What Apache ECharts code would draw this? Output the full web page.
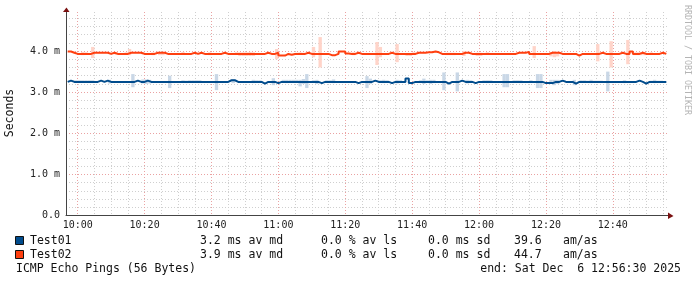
<!DOCTYPE html>
<html>
<head>
<meta charset="utf-8">
<script src="https://cdn.jsdelivr.net/npm/echarts@6/dist/echarts.min.js"></script>
<style>
html,body{margin:0;padding:0;background:#fff;}
#c{width:697px;height:283px;}
</style>
</head>
<body>
<div id="c"></div>
<script>
// ---- time grid (minutes since midnight) ----
const axisMin = 596.5;   // 09:56:30
const axisMax = 776.5;   // 12:56:30
const tStart = 597;      // first sample (09:57), 1-minute steps

// ---- tick labels ----
const xMajorTicks = [600, 620, 640, 660, 680, 700, 720, 740, 760];
const xTickLabels = ['10:00', '10:20', '10:40', '11:00', '11:20', '11:40', '12:00', '12:20', '12:40'];
const xMinorTicks = [605, 610, 615, 625, 630, 635, 645, 650, 655, 665, 670, 675, 685, 690, 695,
  705, 710, 715, 725, 730, 735, 745, 750, 755, 765, 770, 775];
const yMajorTicks = [0, 1, 2, 3, 4];
const yTickLabels = ['0.0', '1.0 m', '2.0 m', '3.0 m', '4.0 m'];
const yMinorTicks = [0.2, 0.4, 0.6, 0.8, 1.2, 1.4, 1.6, 1.8, 2.2, 2.4, 2.6, 2.8,
  3.2, 3.4, 3.6, 3.8, 4.2, 4.4, 4.6, 4.8];

// ---- median RTT (ms), Test01 ----
const test01Median = [
  3.25,3.28,3.25,3.25,3.25,3.25,3.25,3.25,3.25,3.25,3.28,3.25,3.28,3.25,3.25,3.25,3.25,3.25,3.25,3.25,
  3.25,3.28,3.25,3.25,3.28,3.25,3.25,3.25,3.25,3.25,3.25,3.25,3.25,3.25,3.25,3.25,3.25,3.25,3.25,3.25,
  3.25,3.25,3.25,3.25,3.25,3.25,3.25,3.25,3.25,3.29,3.29,3.25,3.25,3.25,3.25,3.25,3.25,3.25,3.25,3.21,
  3.25,3.25,3.25,3.22,3.25,3.25,3.25,3.25,3.25,3.25,3.25,3.25,3.25,3.25,3.25,3.25,3.22,3.25,3.25,3.25,
  3.25,3.25,3.25,3.25,3.25,3.25,3.25,3.22,3.25,3.25,3.25,3.25,3.28,3.25,3.25,3.25,3.25,3.22,3.25,3.25,
  3.25,3.25,3.33,3.22,3.25,3.25,3.25,3.25,3.25,3.25,3.25,3.25,3.25,3.25,3.21,3.25,3.25,3.25,3.28,3.25,
  3.25,3.25,3.22,3.25,3.25,3.25,3.25,3.25,3.25,3.25,3.25,3.25,3.25,3.25,3.25,3.25,3.25,3.25,3.25,3.25,
  3.25,3.25,3.25,3.22,3.22,3.22,3.25,3.25,3.28,3.25,3.25,3.25,3.21,3.25,3.25,3.25,3.25,3.25,3.25,3.25,
  3.25,3.25,3.25,3.25,3.25,3.25,3.25,3.25,3.25,3.25,3.25,3.28,3.25,3.21,3.25,3.25,3.25,3.25,3.25,3.25
];

// ---- median RTT (ms), Test02 ----
const test02Median = [
  3.99,3.99,3.96,3.93,3.93,3.93,3.93,3.93,3.96,3.96,3.96,3.96,3.96,3.93,3.96,3.93,3.93,3.93,3.93,3.96,
  3.96,3.96,3.96,3.93,3.93,3.93,3.93,3.96,3.96,3.96,3.93,3.93,3.93,3.93,3.93,3.93,3.93,3.93,3.96,3.93,
  3.96,3.93,3.93,3.93,3.93,3.93,3.93,3.96,3.93,3.93,3.93,3.93,3.93,3.93,3.93,3.93,3.93,3.93,3.93,3.93,
  3.96,3.93,3.93,3.96,3.89,3.89,3.93,3.91,3.93,3.93,3.93,3.93,3.96,3.93,3.93,3.93,3.93,3.93,3.93,3.90,
  3.90,3.93,3.99,3.99,3.94,3.93,3.93,3.96,3.93,3.93,3.93,3.93,3.93,3.93,3.93,3.93,3.93,3.96,3.93,3.93,
  3.93,3.93,3.93,3.93,3.93,3.96,3.96,3.96,3.97,3.97,3.99,3.97,3.93,3.93,3.93,3.93,3.93,3.93,3.93,3.96,
  3.96,3.93,3.93,3.93,3.93,3.93,3.93,3.93,3.93,3.93,3.93,3.93,3.93,3.93,3.93,3.96,3.96,3.96,3.98,3.93,
  3.93,3.93,3.93,3.93,3.93,3.96,3.96,3.96,3.93,3.93,3.93,3.93,3.93,3.89,3.93,3.93,3.93,3.93,3.93,3.93,
  3.96,3.93,3.93,3.93,3.93,3.93,3.96,3.93,3.93,3.99,3.93,3.93,3.96,3.93,3.93,3.93,3.93,3.93,3.96,3.93
];

// ---- smoke (min/max ranges): [sample index, low ms, high ms] ----
const test01Smoke = [
  [2,3.25,3.29],[3,3.25,3.29],[4,3.25,3.29],[5,3.25,3.29],[6,3.25,3.29],[7,3.25,3.29],[8,3.25,3.29],
  [13,3.21,3.30],[20,3.12,3.44],[23,3.21,3.31],[24,3.20,3.31],[25,3.21,3.30],[31,3.10,3.40],
  [35,3.25,3.29],[36,3.22,3.28],[37,3.25,3.29],[38,3.25,3.29],[39,3.25,3.29],[40,3.25,3.29],
  [45,3.05,3.44],[50,3.22,3.32],[56,3.22,3.30],[57,3.25,3.29],[58,3.25,3.29],[62,3.17,3.34],
  [65,3.25,3.30],[66,3.22,3.30],[67,3.25,3.30],[68,3.25,3.30],[69,3.25,3.30],
  [70,3.14,3.30],[71,3.20,3.32],[72,3.10,3.44],[74,3.25,3.29],[75,3.20,3.30],[78,3.25,3.29],[79,3.25,3.29],
  [80,3.22,3.31],[90,3.10,3.39],[91,3.20,3.33],[93,3.25,3.29],[94,3.25,3.29],[95,3.22,3.30],[96,3.25,3.29],
  [99,3.21,3.30],[100,3.25,3.29],[106,3.25,3.29],[107,3.20,3.33],[108,3.25,3.29],[109,3.20,3.30],[110,3.22,3.30],
  [113,3.05,3.48],[117,3.02,3.48],[120,3.21,3.30],[121,3.25,3.29],[125,3.25,3.29],[126,3.22,3.29],[127,3.25,3.29],
  [131,3.12,3.44],[132,3.12,3.44],[134,3.25,3.29],[135,3.25,3.29],[136,3.22,3.29],[139,3.25,3.29],
  [141,3.10,3.44],[142,3.10,3.44],[145,3.20,3.30],[146,3.17,3.30],[147,3.20,3.30],[149,3.25,3.29],
  [152,3.17,3.30],[154,3.25,3.29],[155,3.25,3.29],[156,3.25,3.28],[157,3.22,3.30],[158,3.25,3.28],
  [159,3.25,3.28],[160,3.25,3.28],[162,3.02,3.50],[167,3.22,3.29],
  [175,3.25,3.28],[176,3.22,3.30],[177,3.25,3.28],[178,3.25,3.28]
];
const test02Smoke = [
  [5,3.90,3.98],[6,3.93,3.97],[8,3.83,4.10],[15,3.91,3.97],[18,3.92,3.97],[19,3.90,4.05],[23,3.92,3.97],
  [26,3.90,3.97],[28,3.90,3.97],[29,3.90,3.97],[35,3.91,3.98],[43,3.90,3.97],
  [51,3.91,3.97],[52,3.88,3.97],[53,3.88,3.97],[54,3.88,3.97],[55,3.88,3.98],[56,3.88,3.97],
  [63,3.80,4.05],[69,3.91,3.96],[70,3.91,3.97],[71,3.91,3.96],[74,3.85,4.10],
  [76,3.60,4.34],[86,3.90,3.97],[93,3.66,4.22],[94,3.85,4.10],[99,3.73,4.17],
  [102,3.88,3.95],[103,3.88,3.95],[104,3.91,3.97],[114,3.90,3.96],[115,3.90,3.96],[116,3.90,3.96],
  [119,3.88,4.00],[123,3.88,3.96],[124,3.88,3.96],[126,3.91,3.97],[140,3.83,4.12],
  [145,3.87,3.98],[146,3.85,4.00],[147,3.87,3.98],[159,3.75,4.17],[163,3.60,4.24],
  [168,3.68,4.27],[170,3.90,3.97],[171,3.90,3.97],[172,3.90,3.97],[173,3.90,3.97],[175,3.91,3.97]
];

// ---- legend statistics ----
const seriesNames = ['Test01', 'Test02'];
const avgMedian = ['3.2 ms av md', '3.9 ms av md'];
const avgLoss = ['0.0 % av ls', '0.0 % av ls'];
const stdDev = ['0.0 ms sd', '0.0 ms sd'];
const amas = ['39.6', '44.7'];
const title = 'ICMP Echo Pings (56 Bytes)';
const endLabel = 'end: Sat Dec  6 12:56:30 2025';

const lineColors = ['#004b8c', '#ff4010'];
const smokeColors = ['#c9d7e6', '#ffd4c9'];
const MONO = '"DejaVu Sans Mono", "Liberation Mono", monospace';
const majorGrid = '#eaa2a2';
const minorGrid = '#cfcfcf';

const chart = echarts.init(document.getElementById('c'), null, {renderer: 'canvas'});

function smokeSeries(list, color) {
  return {
    type: 'custom',
    z: 2,
    silent: true,
    data: list.map(d => [tStart + d[0], d[1], d[2]]),
    encode: {x: 0, y: [1, 2]},
    renderItem: function (params, api) {
      const t = api.value(0);
      const p1 = api.coord([t - 1, api.value(2)]);
      const p2 = api.coord([t, api.value(1)]);
      return {
        type: 'rect',
        shape: {x: p1[0], y: p1[1], width: p2[0] - p1[0], height: p2[1] - p1[1]},
        style: {fill: color}
      };
    }
  };
}
function medianSeries(vals, color) {
  return {
    type: 'line',
    z: 3,
    step: 'start',
    symbol: 'none',
    silent: true,
    data: vals.map((v, i) => [tStart + i, v]),
    lineStyle: {color: color, width: 2}
  };
}

const legendGraphics = [];
const rowY = [241, 255];
for (let k = 0; k < 2; k++) {
  const y = rowY[k];
  legendGraphics.push({type: 'rect', shape: {x: 15.5, y: y - 4.5, width: 8, height: 8},
    style: {fill: lineColors[k], stroke: '#111', lineWidth: 1}});
  const pieces = [[seriesNames[k], 30], [avgMedian[k], 200], [avgLoss[k], 321],
    [stdDev[k], 428], [amas[k], 514], ['am/as', 563]];
  pieces.forEach(p => legendGraphics.push({type: 'text', x: p[1], y: y + 0.5,
    style: {text: p[0], font: '11.5px ' + MONO, fill: '#111', verticalAlign: 'middle', align: 'left'}}));
}
legendGraphics.push({type: 'text', x: 16, y: 269.5,
  style: {text: title, font: '11.5px ' + MONO, fill: '#111', verticalAlign: 'middle', align: 'left'}});
legendGraphics.push({type: 'text', x: 681, y: 269.5,
  style: {text: endLabel, font: '11.5px ' + MONO, fill: '#111', verticalAlign: 'middle', align: 'right'}});
legendGraphics.push({type: 'text', x: 10, y: 113, rotation: Math.PI / 2,
  style: {text: 'Seconds', font: '11.5px ' + MONO, fill: '#111', verticalAlign: 'middle', align: 'center'}});
legendGraphics.push({type: 'text', x: 687, y: 60, rotation: -Math.PI / 2,
  style: {text: 'RRDTOOL / TOBI OETIKER', font: '8.3px ' + MONO, fill: '#b4b4b4', verticalAlign: 'middle', align: 'center'}});

const option = {
  animation: false,
  backgroundColor: '#ffffff',
  grid: {left: 66, right: 29, top: 12, bottom: 67.5, containLabel: false},
  xAxis: [
    {
      type: 'value', min: axisMin, max: axisMax, position: 'bottom', z: 1,
      axisLine: {show: true, onZero: false, lineStyle: {color: '#444', width: 1}},
      axisTick: {show: false, customValues: xMajorTicks},
      axisLabel: {customValues: xMajorTicks, margin: 4.5, color: '#222',
        fontFamily: MONO, fontSize: 10,
        formatter: v => xTickLabels[xMajorTicks.indexOf(v)] || ''},
      splitLine: {show: true, lineStyle: {color: majorGrid, type: [1, 2], width: 1}}
    },
    {
      type: 'value', min: axisMin, max: axisMax, position: 'bottom', z: 0,
      axisLine: {show: false}, axisLabel: {show: false},
      axisTick: {show: false, customValues: xMinorTicks},
      splitLine: {show: true, lineStyle: {color: minorGrid, type: [1, 2], width: 1}}
    }
  ],
  yAxis: [
    {
      type: 'value', min: 0, max: 4.95, position: 'left', z: 1,
      axisLine: {show: true, onZero: false, lineStyle: {color: '#444', width: 1}},
      axisTick: {show: false, customValues: yMajorTicks},
      axisLabel: {customValues: yMajorTicks, margin: 6, color: '#222', fontFamily: MONO, fontSize: 10,
        formatter: v => yTickLabels[yMajorTicks.indexOf(v)] || ''},
      splitLine: {show: true, lineStyle: {color: majorGrid, type: [1, 2], width: 1}}
    },
    {
      type: 'value', min: 0, max: 4.95, position: 'left', z: 0,
      axisLine: {show: false}, axisLabel: {show: false},
      axisTick: {show: false, customValues: yMinorTicks},
      splitLine: {show: true, lineStyle: {color: minorGrid, type: [1, 2], width: 1}}
    }
  ],
  series: [
    smokeSeries(test01Smoke, smokeColors[0]),
    smokeSeries(test02Smoke, smokeColors[1]),
    medianSeries(test01Median, lineColors[0]),
    medianSeries(test02Median, lineColors[1])
  ],
  graphic: legendGraphics
};
chart.setOption(option);

// axis arrows (RRDtool style), placed from the grid geometry
const pr = chart.convertToPixel({gridIndex: 0}, [axisMax, 0]);
const pt = chart.convertToPixel({gridIndex: 0}, [axisMin, 4.95]);
const arrowColor = '#7a1010';
chart.setOption({
  graphic: legendGraphics.concat([
    {type: 'polygon', z: 10, shape: {points: [[pr[0], pr[1] - 3], [pr[0] + 5.5, pr[1] + 0.5], [pr[0], pr[1] + 3.5]]},
      style: {fill: arrowColor}},
    {type: 'polygon', z: 10, shape: {points: [[pt[0] - 3, pt[1]], [pt[0] + 0.5, pt[1] - 4.5], [pt[0] + 3.5, pt[1]]]},
      style: {fill: arrowColor}}
  ])
});
</script>
</body>
</html>
